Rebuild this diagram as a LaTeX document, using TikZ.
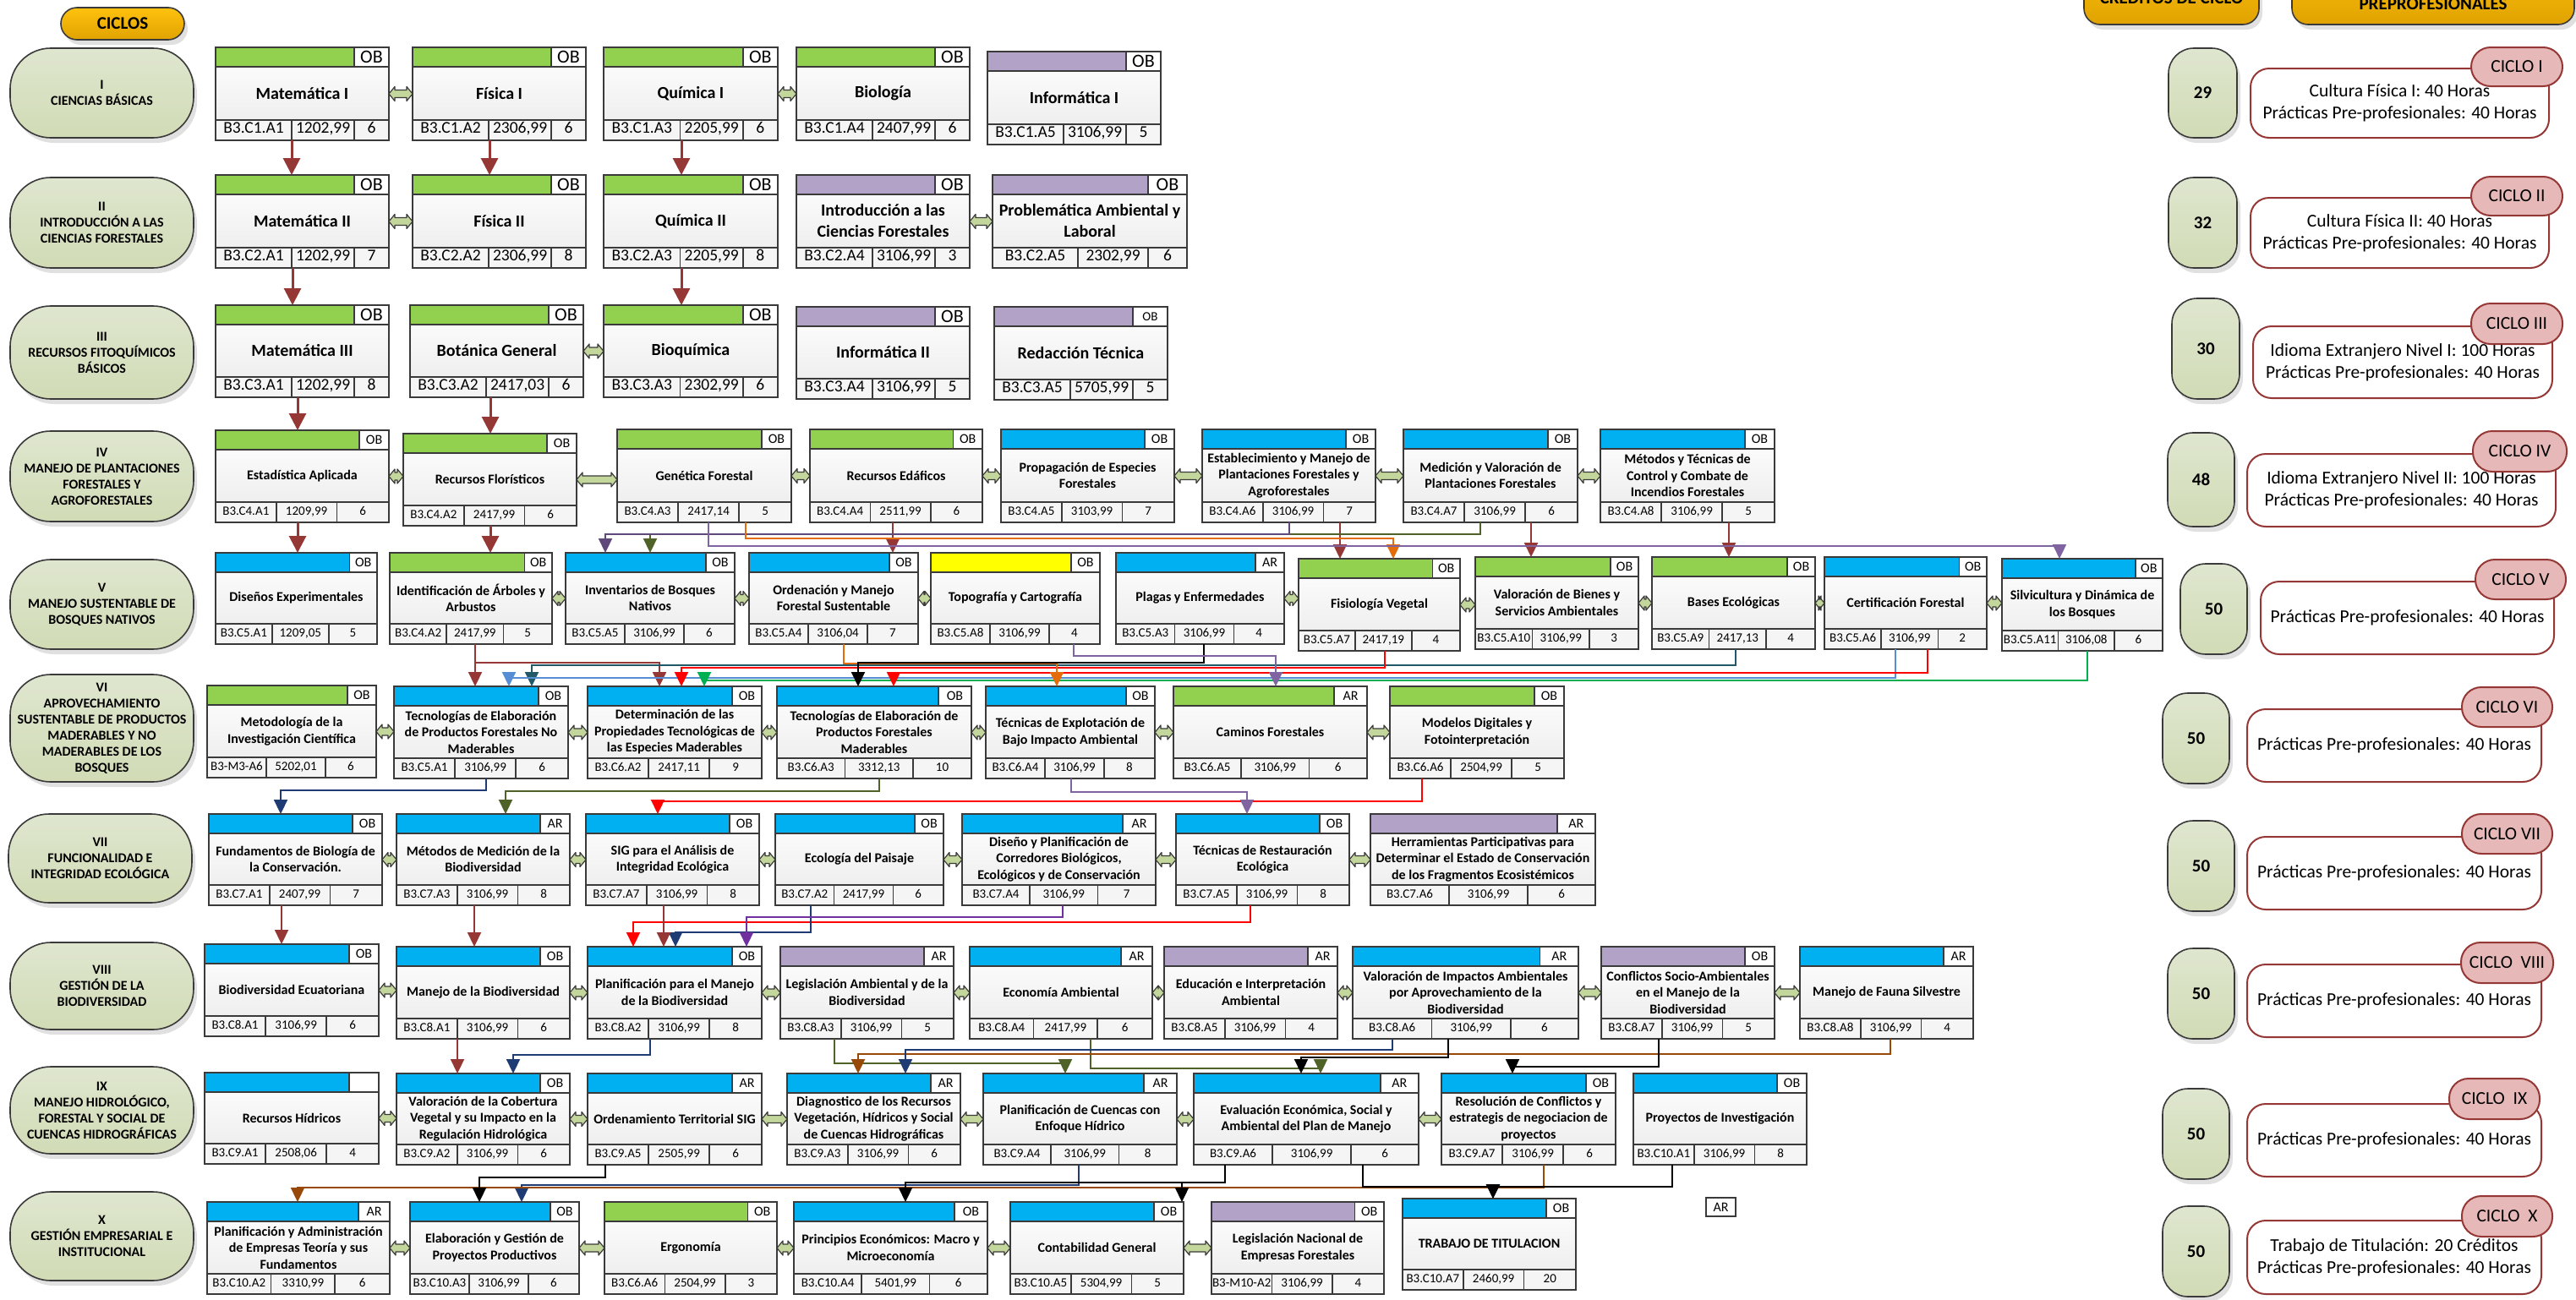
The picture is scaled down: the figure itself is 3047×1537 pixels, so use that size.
\documentclass[tikz,border=0pt]{standalone}
\usepackage{fontspec}
\setmainfont{Carlito}
\usetikzlibrary{calc,arrows.meta}

\definecolor{bord}{HTML}{3A3A3A}
\definecolor{hgreen}{HTML}{92D050}
\definecolor{hblue}{HTML}{00B0F0}
\definecolor{hpurple}{HTML}{B3A2C7}
\definecolor{hyellow}{HTML}{FFFF00}
\definecolor{footg}{HTML}{F5F5F5}
\definecolor{bodyb}{HTML}{EAEAEA}
\definecolor{darr}{HTML}{C3D69B}
\definecolor{cdr}{HTML}{953735}
\definecolor{cpur}{HTML}{5F497A}
\definecolor{colive}{HTML}{4F6228}
\definecolor{corange}{HTML}{E46C0A}
\definecolor{clav}{HTML}{8064A2}
\definecolor{cteal}{HTML}{215968}
\definecolor{cblue}{HTML}{558ED5}
\definecolor{cgreen}{HTML}{00B050}
\definecolor{cred}{HTML}{FF0000}
\definecolor{cnavy}{HTML}{1F3B73}
\definecolor{cviolet}{HTML}{7030A0}
\definecolor{cbrown}{HTML}{984807}
\definecolor{pillA}{HTML}{DFE6CF}
\definecolor{pillB}{HTML}{D1DBB5}
\definecolor{goldA}{HTML}{FFC20E}
\definecolor{goldB}{HTML}{E0A200}
\definecolor{tagred}{HTML}{E6B9B8}
\definecolor{pborder}{HTML}{953735}

\tikzset{
 boxnode/.style={rectangle, inner sep=0pt, outer sep=0pt, draw=bord, line width=1.6pt, top color=white, bottom color=bodyb},
 bline/.style={draw=bord, line width=1.6pt},
 cn/.style={line width=2.2pt, -{Triangle[width=16pt,length=17pt]}, color=#1},
 cnk/.style={line width=3pt, -{Triangle[width=20pt,length=20pt]}, color=cdr},
 dblarr/.style={fill=darr, draw=bord, line width=1.2pt, line join=round},
 cpill/.style={rectangle, rounded corners=48pt, draw=bord, line width=1.6pt, top color=pillA, bottom color=pillB, align=center, font=\fontsize{16}{19}\selectfont\bfseries, inner sep=0pt},
 kpill/.style={rectangle, rounded corners=30pt, draw=bord, line width=1.6pt, top color=pillA, bottom color=pillB, font=\fontsize{21}{25}\selectfont\bfseries, inner sep=0pt},
 pbox/.style={rectangle, rounded corners=22pt, draw=pborder, line width=2pt, fill=white, align=center, font=\fontsize{21.5}{26}\selectfont, inner sep=0pt},
 ptag/.style={rectangle, rounded corners=23pt, draw=pborder, line width=2pt, fill=tagred, font=\fontsize{21.5}{26}\selectfont, inner sep=0pt},
 gpill/.style={rectangle, rounded corners=19pt, draw=bord, line width=1.6pt, top color=goldA, bottom color=goldB, font=\fontsize{21}{25}\selectfont\bfseries, inner sep=0pt},
}

\def\bigsz{\def\tagf{0.2}\def\fa{0.44}\def\fb{0.80}%
 \def\tagfont{\fontsize{22}{26}\selectfont}%
 \def\titlefont{\fontsize{20}{25}\selectfont\bfseries}%
 \def\footfont{\fontsize{19.5}{23}\selectfont}}
\def\smallsz{\def\tagf{0.17}\def\fa{0.35}\def\fb{0.70}%
 \def\tagfont{\fontsize{16}{19}\selectfont}%
 \def\titlefont{\fontsize{16}{19.5}\selectfont\bfseries}%
 \def\footfont{\fontsize{15}{18}\selectfont}}

\def\footcells#1#2#3/#4/#5\relax{%
 \node[font=\footfont, inner sep=0pt, text height=0.63em, text depth=0pt] at ({(#1+\dA)/2},\fty) {#3};
 \node[font=\footfont, inner sep=0pt, text height=0.63em, text depth=0pt] at ({(\dA+\dB)/2},\fty) {#4};
 \node[font=\footfont, inner sep=0pt, text height=0.63em, text depth=0pt] at ({(\dB+#2)/2},\fty) {#5};}

\newcommand\course[9]{%
 \pgfmathsetmacro\cw{#4-#2}%
 \pgfmathsetmacro\chh{#5-#3}%
 \pgfmathsetmacro\cx{(#2+#4)/2}%
 \pgfmathsetmacro\cyy{(#3+#5)/2}%
 \pgfmathsetmacro\tgx{#4-\tagf*\cw}%
 \pgfmathsetmacro\hy{#3+23}%
 \pgfmathsetmacro\fy{#5-24}%
 \pgfmathsetmacro\dA{#2+\fa*\cw}%
 \pgfmathsetmacro\dB{#2+\fb*\cw}%
 \pgfmathsetmacro\by{(\hy+\fy)/2}%
 \pgfmathsetmacro\fty{(\fy+#5)/2}%
 \node[boxnode, minimum width=\cw pt, minimum height=\chh pt] (#1) at (\cx,\cyy) {};
 \filldraw[bline, fill=#6] (#2,#3) rectangle (\tgx,\hy);
 \filldraw[bline, fill=white] (\tgx,#3) rectangle (#4,\hy);
 \node[font=\tagfont, inner sep=0pt] at ({(\tgx+#4)/2},{(#3+\hy)/2}) {#7};
 \filldraw[bline, fill=footg] (#2,\fy) rectangle (#4,#5);
 \draw[bline] (\dA,\fy) -- (\dA,#5) (\dB,\fy) -- (\dB,#5);
 \node[font=\titlefont, align=center, inner sep=0pt] at (\cx,\by) {#8};
 \footcells{#2}{#4}#9\relax
}

\newcommand\dbl[2]{\path[dblarr] let \p1=(#1.east), \p2=(#2.west) in
 (\x1,\y1) -- (\x1+7pt,\y1+8.5pt) -- (\x1+7pt,\y1+4.5pt) -- (\x2-7pt,\y1+4.5pt) -- (\x2-7pt,\y1+8.5pt) -- (\x2,\y1)
 -- (\x2-7pt,\y1-8.5pt) -- (\x2-7pt,\y1-4.5pt) -- (\x1+7pt,\y1-4.5pt) -- (\x1+7pt,\y1-8.5pt) -- cycle;}

\newcommand\cpl[6]{%
 \pgfmathsetmacro\pw{#4-#2}\pgfmathsetmacro\ph{#5-#3}%
 \fill[black,opacity=0.12,rounded corners=48pt] (#2+4,#3+6) rectangle (#4+4,#5+6);
 \node[cpill, minimum width=\pw pt, minimum height=\ph pt] (#1) at ({(#2+#4)/2},{(#3+#5)/2}) {#6};}
\newcommand\kpl[6]{%
 \pgfmathsetmacro\pw{#4-#2}\pgfmathsetmacro\ph{#5-#3}%
 \fill[black,opacity=0.12,rounded corners=30pt] (#2+4,#3+6) rectangle (#4+4,#5+6);
 \node[kpill, minimum width=\pw pt, minimum height=\ph pt] (#1) at ({(#2+#4)/2},{(#3+#5)/2}) {#6};}
\newcommand\pbx[6]{%
 \pgfmathsetmacro\pw{#4-#2}\pgfmathsetmacro\ph{#5-#3}%
 \node[pbox, minimum width=\pw pt, minimum height=\ph pt] (#1) at ({(#2+#4)/2},{(#3+#5)/2}) {#6};}
\newcommand\ptg[6]{%
 \pgfmathsetmacro\pw{#4-#2}\pgfmathsetmacro\ph{#5-#3}%
 \node[ptag, minimum width=\pw pt, minimum height=\ph pt] (#1) at ({(#2+#4)/2},{(#3+#5)/2}) {#6};}

\begin{document}
\begin{tikzpicture}[x=1pt,y=-1pt]
\useasboundingbox (0,0) rectangle (3047,1537);
\fill[white] (0,0) rectangle (3047,1537);
\begin{scope}
\clip (0,0) rectangle (3047,1537);

% ---------- header pills ----------
\fill[black,opacity=0.12,rounded corners=19pt] (76,15) rectangle (222,53);
\node[gpill, minimum width=146pt, minimum height=38pt] (ciclos) at (145,28) {CICLOS};
\fill[black,opacity=0.12,rounded corners=19pt] (2469,-44) rectangle (2676,35);
\node[gpill, minimum width=207pt, minimum height=79pt] (credh) at (2568.5,-10.5) {};
\node[font=\fontsize{21}{25}\selectfont\bfseries, inner sep=0pt] (credt) at (2568.5,-4) {CRÉDITOS DE CICLO};
\fill[black,opacity=0.12,rounded corners=19pt] (2715,-44) rectangle (3049,35);
\node[gpill, minimum width=334pt, minimum height=79pt] (prach) at (2878,-10.5) {};
\node[font=\fontsize{21}{25}\selectfont\bfseries, inner sep=0pt] (pract) at (2878,5) {PREPROFESIONALES};

% ---------- cycle pills ----------
\cpl{c1}{12}{57}{229}{163}{I\\CIENCIAS BÁSICAS}
\cpl{c2}{12}{210}{229}{317}{II\\INTRODUCCIÓN A LAS\\CIENCIAS FORESTALES}
\cpl{c3}{12}{362}{229}{472}{III\\RECURSOS FITOQUÍMICOS\\BÁSICOS}
\cpl{c4}{12}{510}{229}{617}{IV\\MANEJO DE PLANTACIONES\\FORESTALES Y\\AGROFORESTALES}
\cpl{c5}{12}{662}{229}{768}{V\\MANEJO SUSTENTABLE DE\\BOSQUES NATIVOS}
\cpl{c6}{12}{798}{229}{925}{VI\\APROVECHAMIENTO\\SUSTENTABLE DE PRODUCTOS\\MADERABLES Y NO\\MADERABLES DE LOS\\BOSQUES}
\cpl{c7}{10}{963}{227}{1068}{VII\\FUNCIONALIDAD E\\INTEGRIDAD ECOLÓGICA}
\cpl{c8}{12}{1115}{229}{1218}{VIII\\GESTIÓN DE LA\\BIODIVERSIDAD}
\cpl{c9}{12}{1262}{229}{1365}{IX\\MANEJO HIDROLÓGICO,\\FORESTAL Y SOCIAL DE\\CUENCAS HIDROGRÁFICAS}
\cpl{c10}{12}{1410}{229}{1515}{X\\GESTIÓN EMPRESARIAL E\\INSTITUCIONAL}

% ---------- credit pills ----------
\kpl{k1}{2565}{57}{2646}{163}{29}
\kpl{k2}{2565}{210}{2646}{317}{32}
\kpl{k3}{2569}{353}{2649}{472}{30}
\kpl{k4}{2564}{512}{2643}{623}{48}
\kpl{k5}{2579}{667}{2658}{774}{50}
\kpl{k6}{2558}{820}{2637}{927}{50}
\kpl{k7}{2564}{971}{2643}{1078}{50}
\kpl{k8}{2564}{1122}{2643}{1229}{50}
\kpl{k9}{2558}{1288}{2637}{1395}{50}
\kpl{k10}{2558}{1427}{2637}{1534}{50}

% ---------- practice boxes ----------
\pbx{p1}{2662}{81}{3015}{163}{Cultura Física I: 40 Horas\\Prácticas Pre-profesionales: 40 Horas}
\ptg{t1}{2923}{56}{3031}{102}{CICLO I}
\pbx{p2}{2662}{234}{3015}{317}{Cultura Física II: 40 Horas\\Prácticas Pre-profesionales: 40 Horas}
\ptg{t2}{2923}{209}{3031}{255}{CICLO II}
\pbx{p3}{2665}{386}{3019}{471}{Idioma Extranjero Nivel I: 100 Horas\\Prácticas Pre-profesionales: 40 Horas}
\ptg{t3}{2923}{359}{3031}{407}{CICLO III}
\pbx{p4}{2658}{537}{3023}{623}{Idioma Extranjero Nivel II: 100 Horas\\Prácticas Pre-profesionales: 40 Horas}
\ptg{t4}{2925}{510}{3036}{558}{CICLO IV}
\pbx{p5}{2674}{688}{3021}{774}{Prácticas Pre-profesionales: 40 Horas}
\ptg{t5}{2928}{662}{3035}{709}{CICLO V}
\pbx{p6}{2658}{839}{3006}{925}{Prácticas Pre-profesionales: 40 Horas}
\ptg{t6}{2912}{813}{3019}{860}{CICLO VI}
\pbx{p7}{2658}{990}{3006}{1076}{Prácticas Pre-profesionales: 40 Horas}
\ptg{t7}{2912}{963}{3019}{1010}{CICLO VII}
\pbx{p8}{2658}{1141}{3006}{1227}{Prácticas Pre-profesionales: 40 Horas}
\ptg{t8}{2911}{1115}{3020}{1163}{CICLO\ \ VIII}
\pbx{p9}{2658}{1306}{3006}{1392}{Prácticas Pre-profesionales: 40 Horas}
\ptg{t9}{2897}{1276}{3004}{1324}{CICLO\ \ IX}
\pbx{p10}{2658}{1444}{3006}{1531}{Trabajo de Titulación: 20 Créditos\\Prácticas Pre-profesionales: 40 Horas}
\ptg{t10}{2912}{1415}{3019}{1463}{CICLO\ \ X}

% ---------- rows I-III ----------
\bigsz
\course{m1}{255}{56}{460}{166}{hgreen}{OB}{Matemática I}{B3.C1.A1/1202,99/6}
\course{f1}{488}{56}{693}{166}{hgreen}{OB}{Física I}{B3.C1.A2/2306,99/6}
\course{q1}{714}{56}{920}{166}{hgreen}{OB}{Química I}{B3.C1.A3/2205,99/6}
\course{bio}{942}{56}{1147}{166}{hgreen}{OB}{Biología}{B3.C1.A4/2407,99/6}
\course{inf1}{1168}{61}{1373}{171}{hpurple}{OB}{Informática I}{B3.C1.A5/3106,99/5}

\course{m2}{255}{207}{460}{317}{hgreen}{OB}{Matemática II}{B3.C2.A1/1202,99/7}
\course{f2}{488}{207}{693}{317}{hgreen}{OB}{Física II}{B3.C2.A2/2306,99/8}
\course{q2}{714}{207}{920}{317}{hgreen}{OB}{Química II}{B3.C2.A3/2205,99/8}
\course{intro}{942}{207}{1147}{317}{hpurple}{OB}{Introducción a las\\Ciencias Forestales}{B3.C2.A4/3106,99/3}
\course{prob}{1174}{207}{1404}{317}{hpurple}{OB}{Problemática Ambiental y\\Laboral}{B3.C2.A5/2302,99/6}

\course{m3}{255}{361}{460}{470}{hgreen}{OB}{Matemática III}{B3.C3.A1/1202,99/8}
\course{bot}{485}{361}{690}{470}{hgreen}{OB}{Botánica General}{B3.C3.A2/2417,03/6}
\course{bioq}{714}{361}{920}{470}{hgreen}{OB}{Bioquímica}{B3.C3.A3/2302,99/6}
\course{inf2}{942}{363}{1147}{472}{hpurple}{OB}{Informática II}{B3.C3.A4/3106,99/5}
\course{redac}{1176}{363}{1381}{473}{hpurple}{{\fontsize{15}{18}\selectfont OB}}{Redacción Técnica}{B3.C3.A5/5705,99/5}

% ---------- row IV ----------
\smallsz
\course{est}{255}{509}{460}{618}{hgreen}{OB}{Estadística Aplicada}{B3.C4.A1/1209,99/6}
\course{rflo}{477}{513}{682}{622}{hgreen}{OB}{Recursos Florísticos}{B3.C4.A2/2417,99/6}
\course{gen}{730}{508}{936}{618}{hgreen}{OB}{Genética Forestal}{B3.C4.A3/2417,14/5}
\course{edaf}{958}{508}{1162}{618}{hgreen}{OB}{Recursos Edáficos}{B3.C4.A4/2511,99/6}
\course{prop}{1184}{508}{1389}{618}{hblue}{OB}{Propagación de Especies\\Forestales}{B3.C4.A5/3103,99/7}
\course{estab}{1422}{508}{1627}{618}{hblue}{OB}{Establecimiento y Manejo de\\Plantaciones Forestales y\\Agroforestales}{B3.C4.A6/3106,99/7}
\course{medi}{1660}{508}{1866}{618}{hblue}{OB}{Medición y Valoración de\\Plantaciones Forestales}{B3.C4.A7/3106,99/6}
\course{meto}{1893}{508}{2099}{618}{hblue}{OB}{Métodos y Técnicas de\\Control y Combate de\\Incendios Forestales}{B3.C4.A8/3106,99/5}

% ---------- row V ----------
\course{dise}{255}{654}{446}{762}{hblue}{OB}{Diseños Experimentales}{B3.C5.A1/1209,05/5}
\course{iden}{461}{654}{653}{762}{hgreen}{OB}{Identificación de Árboles y\\Arbustos}{B3.C4.A2/2417,99/5}
\course{inv}{669}{654}{869}{762}{hblue}{OB}{Inventarios de Bosques\\Nativos}{B3.C5.A5/3106,99/6}
\course{orde}{886}{654}{1086}{762}{hblue}{OB}{Ordenación y Manejo\\Forestal Sustentable}{B3.C5.A4/3106,04/7}
\course{topo}{1101}{654}{1301}{762}{hyellow}{OB}{Topografía y Cartografía}{B3.C5.A8/3106,99/4}
\course{plag}{1320}{654}{1519}{762}{hblue}{AR}{Plagas y Enfermedades}{B3.C5.A3/3106,99/4}
\course{fisi}{1536}{661}{1727}{770}{hgreen}{OB}{Fisiología Vegetal}{B3.C5.A7/2417,19/4}
\course{valb}{1745}{659}{1938}{768}{hgreen}{OB}{Valoración de Bienes y\\Servicios Ambientales}{B3.C5.A10/3106,99/3}
\course{base}{1954}{659}{2147}{768}{hgreen}{OB}{Bases Ecológicas}{B3.C5.A9/2417,13/4}
\course{cert}{2158}{659}{2350}{768}{hblue}{OB}{Certificación Forestal}{B3.C5.A6/3106,99/2}
\course{silv}{2368}{661}{2558}{770}{hblue}{OB}{Silvicultura y Dinámica de\\los Bosques}{B3.C5.A11/3106,08/6}

% ---------- row VI ----------
\course{meti}{245}{811}{445}{920}{hgreen}{OB}{Metodología de la\\Investigación Científica}{B3-M3-A6/5202,01/6}
\course{tnm}{466}{812}{672}{921}{hblue}{OB}{Tecnologías de Elaboración\\de Productos Forestales No\\Maderables}{B3.C5.A1/3106,99/6}
\course{det}{695}{812}{901}{921}{hblue}{OB}{Determinación de las\\Propiedades Tecnológicas de\\las Especies Maderables}{B3.C6.A2/2417,11/9}
\course{tm}{919}{812}{1149}{921}{hblue}{OB}{Tecnologías de Elaboración de\\Productos Forestales\\Maderables}{B3.C6.A3/3312,13/10}
\course{texp}{1166}{812}{1366}{921}{hblue}{OB}{Técnicas de Explotación de\\Bajo Impacto Ambiental}{B3.C6.A4/3106,99/8}
\course{cam}{1388}{812}{1617}{921}{hgreen}{AR}{Caminos Forestales}{B3.C6.A5/3106,99/6}
\course{mod}{1644}{812}{1850}{921}{hgreen}{OB}{Modelos Digitales y\\Fotointerpretación}{B3.C6.A6/2504,99/5}

% ---------- row VII ----------
\course{fund}{247}{963}{452}{1071}{hblue}{OB}{Fundamentos de Biología de\\la Conservación.}{B3.C7.A1/2407,99/7}
\course{mmed}{469}{963}{674}{1071}{hblue}{AR}{Métodos de Medición de la\\Biodiversidad}{B3.C7.A3/3106,99/8}
\course{sig}{693}{963}{898}{1071}{hblue}{OB}{SIG para el Análisis de\\Integridad Ecológica}{B3.C7.A7/3106,99/8}
\course{eco}{917}{963}{1116}{1071}{hblue}{OB}{Ecología del Paisaje}{B3.C7.A2/2417,99/6}
\course{dis}{1138}{963}{1367}{1071}{hblue}{AR}{Diseño y Planificación de\\Corredores Biológicos,\\Ecológicos y de Conservación}{B3.C7.A4/3106,99/7}
\course{tres}{1391}{963}{1596}{1071}{hblue}{OB}{Técnicas de Restauración\\Ecológica}{B3.C7.A5/3106,99/8}
\course{herr}{1621}{963}{1887}{1071}{hpurple}{AR}{Herramientas Participativas para\\Determinar el Estado de Conservación\\de los Fragmentos Ecosistémicos}{B3.C7.A6/3106,99/6}

% ---------- row VIII ----------
\course{bec}{242}{1117}{448}{1226}{hblue}{OB}{Biodiversidad Ecuatoriana}{B3.C8.A1/3106,99/6}
\course{mbio}{469}{1120}{674}{1229}{hblue}{OB}{Manejo de la Biodiversidad}{B3.C8.A1/3106,99/6}
\course{pman}{695}{1120}{901}{1229}{hblue}{OB}{Planificación para el Manejo\\de la Biodiversidad}{B3.C8.A2/3106,99/8}
\course{leg}{923}{1120}{1128}{1229}{hpurple}{AR}{Legislación Ambiental y de la\\Biodiversidad}{B3.C8.A3/3106,99/5}
\course{ecoa}{1147}{1120}{1363}{1229}{hblue}{AR}{Economía Ambiental}{B3.C8.A4/2417,99/6}
\course{edu}{1377}{1120}{1582}{1229}{hpurple}{AR}{Educación e Interpretación\\Ambiental}{B3.C8.A5/3106,99/4}
\course{vimp}{1600}{1120}{1867}{1229}{hblue}{AR}{Valoración de Impactos Ambientales\\por Aprovechamiento de la\\Biodiversidad}{B3.C8.A6/3106,99/6}
\course{conf}{1894}{1120}{2099}{1229}{hpurple}{OB}{Conflictos Socio-Ambientales\\en el Manejo de la\\Biodiversidad}{B3.C8.A7/3106,99/5}
\course{fau}{2129}{1120}{2334}{1229}{hblue}{AR}{Manejo de Fauna Silvestre}{B3.C8.A8/3106,99/4}

% ---------- row IX ----------
\course{rhid}{242}{1269}{448}{1377}{hblue}{}{Recursos Hídricos}{B3.C9.A1/2508,06/4}
\course{vcob}{469}{1270}{674}{1378}{hblue}{OB}{Valoración de la Cobertura\\Vegetal y su Impacto en la\\Regulación Hidrológica}{B3.C9.A2/3106,99/6}
\course{ord}{695}{1270}{901}{1378}{hblue}{AR}{Ordenamiento Territorial SIG}{B3.C9.A5/2505,99/6}
\course{diag}{931}{1270}{1136}{1378}{hblue}{AR}{Diagnostico de los Recursos\\Vegetación, Hídricos y Social\\de Cuencas Hidrográficas}{B3.C9.A3/3106,99/6}
\course{pcue}{1163}{1270}{1392}{1378}{hblue}{AR}{Planificación de Cuencas con\\Enfoque Hídrico}{B3.C9.A4/3106,99/8}
\course{eval}{1412}{1270}{1678}{1378}{hblue}{AR}{Evaluación Económica, Social y\\Ambiental del Plan de Manejo}{B3.C9.A6/3106,99/6}
\course{reso}{1705}{1270}{1911}{1378}{hblue}{OB}{Resolución de Conflictos y\\estrategis de negociacion de\\proyectos}{B3.C9.A7/3106,99/6}
\course{pinv}{1932}{1270}{2137}{1378}{hblue}{OB}{Proyectos de Investigación}{B3.C10.A1/3106,99/8}

% ---------- row X ----------
\course{padm}{245}{1422}{461}{1531}{hblue}{AR}{Planificación y Administración\\de Empresas Teoría y sus\\Fundamentos}{B3.C10.A2/3310,99/6}
\course{elab}{485}{1422}{685}{1531}{hblue}{OB}{Elaboración y Gestión de\\Proyectos Productivos}{B3.C10.A3/3106,99/6}
\course{ergo}{715}{1422}{919}{1531}{hgreen}{OB}{Ergonomía}{B3.C6.A6/2504,99/3}
\course{prin}{939}{1422}{1168}{1531}{hblue}{OB}{Principios Económicos: Macro y\\Microeconomía}{B3.C10.A4/5401,99/6}
\course{cont}{1195}{1422}{1400}{1531}{hblue}{OB}{Contabilidad General}{B3.C10.A5/5304,99/5}
\course{legn}{1433}{1422}{1637}{1531}{hpurple}{OB}{Legislación Nacional de\\Empresas Forestales}{B3-M10-A2/3106,99/4}
\course{trab}{1659}{1418}{1864}{1526}{hblue}{OB}{TRABAJO DE TITULACION}{B3.C10.A7/2460,99/20}
\node[draw=bord, line width=1.6pt, fill=white, minimum width=35pt, minimum height=22pt, inner sep=0pt, font=\fontsize{16}{19}\selectfont] (arbox) at (2035.5,1428) {AR};

% ---------- double arrows ----------
\dbl{m1}{f1}\dbl{q1}{bio}
\dbl{m2}{f2}\dbl{intro}{prob}
\dbl{bot}{bioq}
\dbl{est}{rflo}\dbl{rflo}{gen}\dbl{gen}{edaf}\dbl{edaf}{prop}\dbl{prop}{estab}\dbl{estab}{medi}\dbl{medi}{meto}
\dbl{iden}{inv}\dbl{inv}{orde}\dbl{orde}{topo}\dbl{plag}{fisi}\dbl{fisi}{valb}\dbl{valb}{base}\dbl{base}{cert}\dbl{cert}{silv}
\dbl{meti}{tnm}\dbl{tnm}{det}\dbl{det}{tm}\dbl{tm}{texp}\dbl{texp}{cam}\dbl{cam}{mod}
\dbl{fund}{mmed}\dbl{mmed}{sig}\dbl{sig}{eco}\dbl{eco}{dis}\dbl{dis}{tres}\dbl{tres}{herr}
\dbl{bec}{mbio}\dbl{mbio}{pman}\dbl{pman}{leg}\dbl{leg}{ecoa}\dbl{ecoa}{edu}\dbl{edu}{vimp}\dbl{vimp}{conf}\dbl{conf}{fau}
\dbl{rhid}{vcob}\dbl{vcob}{ord}\dbl{ord}{diag}\dbl{diag}{pcue}\dbl{pcue}{eval}\dbl{eval}{reso}
\dbl{padm}{elab}\dbl{elab}{ergo}\dbl{ergo}{prin}\dbl{prin}{cont}\dbl{cont}{legn}

% ---------- thick prerequisite arrows ----------
\draw[cnk] (m1.south -| 345,0) -- (m2.north -| 345,0);
\draw[cnk] (f1.south -| 579,0) -- (f2.north -| 579,0);
\draw[cnk] (q1.south -| 806,0) -- (q2.north -| 806,0);
\draw[cnk] (m2.south -| 346,0) -- (m3.north -| 346,0);
\draw[cnk] (q2.south -| 806,0) -- (bioq.north -| 806,0);
\draw[cnk] (m3.south -| 352,0) -- (est.north -| 352,0);
\draw[cnk] (bot.south -| 580,0) -- (rflo.north -| 580,0);
\draw[cnk] (est.south -| 352,0) -- (dise.north -| 352,0);
\draw[cnk] (rflo.south -| 580,0) -- (iden.north -| 580,0);

% ---------- IV -> V ----------
\draw[cn=cdr] (edaf.south -| 1056,0) -- (orde.north -| 1056,0);
\draw[cn=cdr] (estab.south -| 1585,0) -- (fisi.north -| 1585,0);
\draw[cn=cdr] (medi.south -| 1811,0) -- (valb.north -| 1811,0);
\draw[cn=cdr] (meto.south -| 2045,0) -- (base.north -| 2045,0);
\draw[cn=colive] (medi.south -| 1751,0) -- ++(0,14) -| (inv.north -| 769,0);
\draw[cn=cpur] (estab.south -| 1525,0) -- ++(0,14) -| (inv.north -| 716,0);
\draw[cn=corange] (gen.south -| 882,0) -- ++(0,19) -| (fisi.north -| 1648,0);
\draw[cn=clav] (gen.south -| 838,0) -- ++(0,28) -| (silv.north -| 2436,0);

% ---------- V -> VI ----------
\draw[cn=cdr] (iden.south -| 562,0) -- (tnm.north -| 562,0);
\draw[cn=cdr] (iden.south -| 562,0) -- ++(0,22) -| (det.north -| 780,0);
\draw[cn=cteal] (base.south -| 2053,0) -- ++(0,19) -| (tnm.north -| 629,0);
\draw[cn=cblue] (cert.south -| 2242,0) -- ++(0,34) -| (tnm.north -| 602,0);
\draw[cn=cgreen] (silv.south -| 2469,0) -- ++(0,35) -| (det.north -| 833,0);
\draw[cn=cred] (fisi.south -| 1638,0) -- ++(0,20) -| (det.north -| 806,0);
\draw[cn=cred] (cert.south -| 2280,0) -- ++(0,28) -| (tm.north -| 1057,0);
\draw[cn=corange] (orde.south -| 998,0) -- ++(0,23) -| (texp.north -| 1250,0);
\draw[cn=black] (plag.south -| 1424,0) -- ++(0,22) -| (tm.north -| 1015,0);
\draw[cn=clav] (topo.south -| 1270,0) -- ++(0,14) -| (cam.north -| 1509,0);

% ---------- VI -> VII ----------
\draw[cn=cnavy] (tnm.south -| 575,0) -- ++(0,14) -| (fund.north -| 332,0);
\draw[cn=colive] (tm.south -| 1040,0) -- ++(0,15) -| (mmed.north -| 598,0);
\draw[cn=cred] (mod.south -| 1682,0) -- ++(0,27) -| (sig.north -| 778,0);
\draw[cn=clav] (texp.south -| 1267,0) -- ++(0,16) -| (tres.north -| 1475,0);

% ---------- VII -> VIII ----------
\draw[cn=cdr] (fund.south -| 333,0) -- (bec.north -| 333,0);
\draw[cn=cdr] (mmed.south -| 561,0) -- (mbio.north -| 561,0);
\draw[cn=cred] (tres.south -| 1479,0) -- ++(0,20) -| (pman.north -| 749,0);
\draw[cn=cnavy] (eco.south -| 959,0) -- ++(0,32) -| (pman.north -| 799,0);
\draw[cn=cviolet] (dis.south -| 1257,0) -- ++(0,14) -| (pman.north -| 883,0);
\draw[cn=cdr] (sig.south -| 785,0) -- (pman.north -| 785,0);

% ---------- VIII -> IX ----------
\draw[cn=cdr] (mbio.south -| 541,0) -- (vcob.north -| 541,0);
\draw[cn=cnavy] (pman.south -| 769,0) -- ++(0,19) -| (vcob.north -| 607,0);
\draw[cn=colive] (leg.south -| 987,0) -- ++(0,29) -| (pcue.north -| 1260,0);
\draw[cn=colive] (ecoa.south -| 1290,0) -- ++(0,35) -| (eval.north -| 1562,0);
\draw[cn=cbrown] (fau.south -| 2236,0) -- ++(0,18) -| (diag.north -| 1015,0);
\draw[cn=cnavy] (vimp.south -| 1647,0) -- ++(0,13) -| (diag.north -| 1071,0);
\draw[cn=black] (vimp.south -| 1713,0) -- ++(0,22) -| (eval.north -| 1539,0);
\draw[cn=black] (conf.south -| 1962,0) -- ++(0,33) -| (reso.north -| 1789,0);

% ---------- IX -> X ----------
\draw[cn=cnavy] (pcue.south -| 1276,0) -- ++(0,24) -| (elab.north -| 617,0);
\draw[cn=cbrown] (reso.south -| 1826,0) -- ++(0,27) -| (padm.north -| 352,0);
\draw[cn=black] (ord.south -| 716,0) -- ++(0,15) -| (elab.north -| 567,0);
\draw[cn=black] (eval.south -| 1449,0) -- ++(0,21) -| (prin.north -| 1071,0);
\draw[cn=black] (eval.south -| 1449,0) -- ++(0,21) -| (cont.north -| 1398,0);
\draw[cn=black] (eval.south -| 1612,0) -- ++(0,26) -| (trab.north -| 1766,0);
\draw[cn=black] (pinv.south -| 1978,0) -- ++(0,26) -| (trab.north -| 1766,0);

\end{scope}
\end{tikzpicture}
\end{document}
